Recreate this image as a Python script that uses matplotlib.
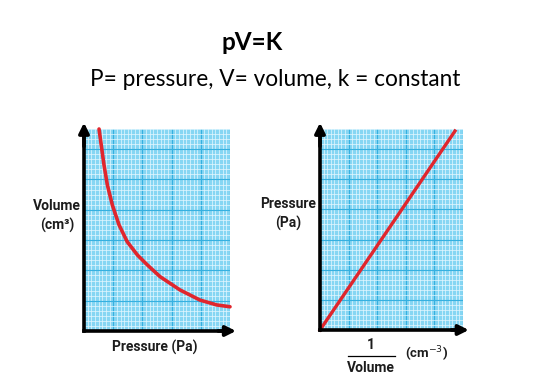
import numpy as np
import matplotlib
matplotlib.use("Agg")
import matplotlib.pyplot as plt
from matplotlib.ticker import MultipleLocator

# --- data ---
# left: volume vs pressure (Boyle's law curve)
pressure = [1.03, 1.18, 1.37, 1.60, 1.94, 2.40, 2.96, 3.66, 4.34, 5.21, 6.58, 7.95, 9.09, 10.0]
volume = [10.0, 9.21, 8.22, 7.23, 6.24, 5.25, 4.42, 3.76, 3.27, 2.69, 2.03, 1.53, 1.29, 1.20]

# right: pressure vs 1/volume (straight line through origin)
inv_volume = [0.0, 9.44]
pressure_r = [0.0, 9.9]

TITLE = "pV=K"
SUBTITLE = "P= pressure, V= volume, k = constant"

BG = "#86d6f3"
MINOR = "#e6f8ff"
MAJOR = "#35b0e0"
RED = "#e0262d"
LABEL_FONT = ["Roboto", "DejaVu Sans"]
TITLE_FONT = ["Lato", "DejaVu Sans"]


def graph_paper(ax):
    ax.set_xlim(0, 10)
    ax.set_ylim(0, 10)
    ax.set_facecolor(BG)
    ax.xaxis.set_major_locator(MultipleLocator(2))
    ax.xaxis.set_minor_locator(MultipleLocator(0.25))
    ax.yaxis.set_major_locator(MultipleLocator(1.5))
    ax.yaxis.set_minor_locator(MultipleLocator(0.25))
    ax.grid(which="minor", color=MINOR, lw=0.5)
    ax.grid(which="major", color=MAJOR, lw=0.8)
    ax.tick_params(which="both", length=0, labelbottom=False, labelleft=False)
    for s in ("top", "right"):
        ax.spines[s].set_visible(False)
    for s in ("left", "bottom"):
        ax.spines[s].set_linewidth(2.6)
        ax.spines[s].set_color("black")
    ax.set_axisbelow(True)
    # arrow heads on the axes
    ax.annotate("", xy=(0, 1.045), xytext=(0, 0.9), xycoords="axes fraction",
                arrowprops=dict(arrowstyle="-|>,head_length=0.6,head_width=0.3",
                                color="black", lw=2.6), annotation_clip=False)
    ax.annotate("", xy=(1.06, 0), xytext=(0.9, 0), xycoords="axes fraction",
                arrowprops=dict(arrowstyle="-|>,head_length=0.6,head_width=0.3",
                                color="black", lw=2.6), annotation_clip=False)


def label(x, y, s, size=10, **kw):
    # x, y given in pixels from the top-left corner
    fig.text(x / 535, 1 - y / 378, s, ha="center", va="center", fontsize=size,
             fontweight="bold", family=LABEL_FONT, color="#1c1c1c", **kw)


fig = plt.figure(figsize=(5.35, 3.78), dpi=100)

fig.text(0.471, 0.888, TITLE, ha="center", va="center", fontsize=17.5,
         fontweight="bold", family=TITLE_FONT)
fig.text(0.514, 0.79, SUBTITLE, ha="center", va="center", fontsize=16.3,
         family=TITLE_FONT)

# left panel
ax1 = fig.add_axes([84 / 535, 47 / 378, 146 / 535, 202 / 378])
graph_paper(ax1)
ax1.plot(pressure, volume, color=RED, lw=2.6, solid_capstyle="round",
         solid_joinstyle="round", clip_on=False)
label(57, 216, "Volume\n(cm³)", linespacing=1.35)
label(155, 347, "Pressure (Pa)")

# right panel
ax2 = fig.add_axes([320 / 535, 48 / 378, 143 / 535, 201 / 378])
graph_paper(ax2)
ax2.plot(inv_volume, pressure_r, color=RED, lw=2.4, clip_on=False)
label(288, 214, "Pressure\n(Pa)", linespacing=1.35)
label(371, 345, "1")
fig.add_artist(plt.Line2D([348 / 535, 395 / 535], [1 - 356 / 378, 1 - 356 / 378],
                          color="black", lw=0.9))
label(371, 368, "Volume")
label(427, 354, "(cm$^{-3}$)", size=9.5)

fig.savefig("out.png", dpi=100)
